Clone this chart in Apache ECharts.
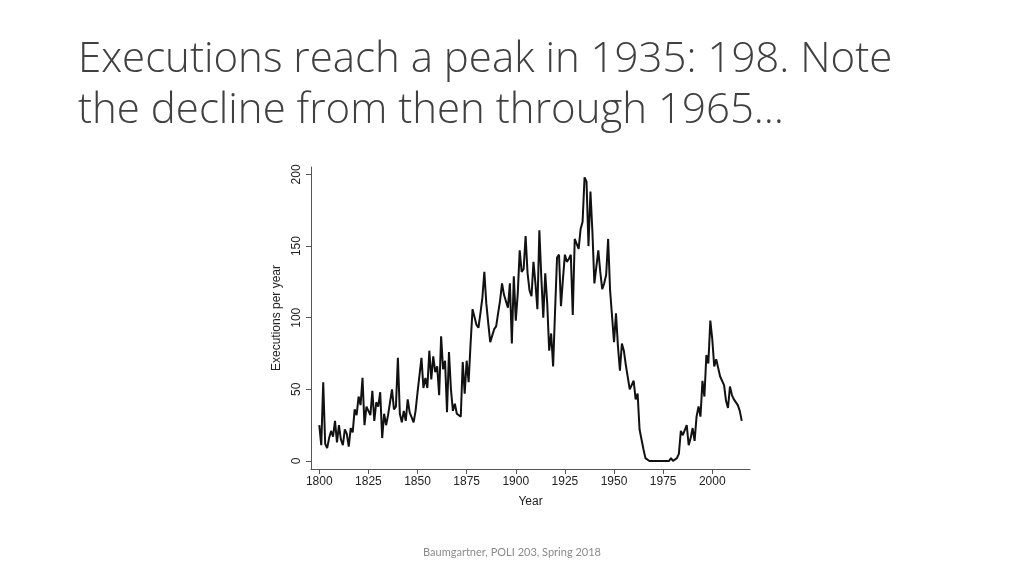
<!DOCTYPE html>
<html>
<head>
<meta charset="utf-8">
<script src="https://cdn.jsdelivr.net/npm/echarts@6/dist/echarts.min.js"></script>
<style>
html,body{margin:0;padding:0;background:#fff;}
#chart{width:1024px;height:576px;}
</style>
</head>
<body>
<div id="chart"></div>
<script>
// Executions per year, grouped by 20-year blocks
const startYears = [1800, 1820, 1840, 1860, 1880, 1900, 1920, 1940, 1960, 1980, 2000];
const exec1800 = [25,11,55,12,9,16,21,17,28,13,25,15,11,22,19,10,23,20,36,32];
const exec1820 = [45,39,58,25,38,37,32,49,28,41,38,48,16,33,25,32,33,50,36,38];
const exec1840 = [72,33,27,35,28,43,34,33,27,35,48,60,72,51,58,51,77,57,73,62];
const exec1860 = [66,46,87,64,70,34,76,50,35,40,33,34,31,69,47,70,55,82,106,105];
const exec1880 = [95,93,103,114,132,110,96,83,82,92,94,103,112,124,116,115,107,124,82,129];
const exec1900 = [98,117,147,132,134,157,131,119,115,139,124,106,161,128,100,131,110,77,89,66];
const exec1920 = [105,142,144,108,127,144,139,141,144,102,155,154,148,162,167,198,195,150,188,160];
const exec1940 = [124,123,147,132,120,124,130,155,119,119,83,103,80,63,82,77,67,66,50,50];
const exec1960 = [56,43,47,22,15,8,2,2,0,0,0,0,0,0,0,0,0,1,0,2];
const exec1980 = [0,1,2,5,21,18,18,25,11,16,23,14,31,38,31,56,45,74,68,98];
const exec2000 = [85,66,71,65,59,60,53,42,37,52,46,43,43,39,35,28];
const blocks = [exec1800, exec1820, exec1840, exec1860, exec1880, exec1900, exec1920, exec1940, exec1960, exec1980, exec2000];

const xTicks = [1800, 1825, 1850, 1875, 1900, 1925, 1950, 1975, 2000];
const yTicks = [0, 50, 100, 150, 200];

const titleText = 'Executions reach a peak in 1935: 198. Note\nthe decline from then through 1965\u2026';
const footerText = 'Baumgartner, POLI 203, Spring 2018';
const xName = 'Year';
const yName = 'Executions per year';

const points = [];
blocks.forEach((arr, b) => {
  arr.forEach((v, i) => points.push([startYears[b] + i, v]));
});

const chart = echarts.init(document.getElementById('chart'), null, {renderer: 'canvas'});
const axisFont = 'Liberation Sans, Arial, sans-serif';
chart.setOption({
  animation: false,
  backgroundColor: '#ffffff',
  title: [
    {
      text: titleText,
      left: 73,
      top: 30,
      textStyle: {fontFamily: 'Open Sans', fontWeight: 300, fontSize: 42, lineHeight: 51, color: '#404040'}
    },
    {
      text: footerText,
      left: 'center',
      top: 542,
      textStyle: {fontFamily: 'Lato', fontWeight: 'normal', fontSize: 11, color: '#8a8a8a'}
    }
  ],
  grid: {left: 311, top: 167, right: 274, bottom: 107, containLabel: false},
  xAxis: {
    type: 'value',
    min: 1795.78,
    max: 2019.2,
    name: xName,
    nameLocation: 'middle',
    nameGap: 27,
    nameTextStyle: {fontFamily: axisFont, fontSize: 12, color: '#222'},
    axisLine: {show: true, onZero: false, lineStyle: {color: '#555', width: 1}},
    axisTick: {show: true, length: 5, customValues: xTicks, lineStyle: {color: '#555'}},
    axisLabel: {customValues: xTicks, formatter: v => String(v), fontFamily: axisFont, fontSize: 12, color: '#222', margin: 7},
    splitLine: {show: false}
  },
  yAxis: {
    type: 'value',
    min: -5.58,
    max: 205.2,
    name: yName,
    nameLocation: 'middle',
    nameGap: 28,
    nameTextStyle: {fontFamily: axisFont, fontSize: 12, color: '#222'},
    axisLine: {show: true, onZero: false, lineStyle: {color: '#555', width: 1}},
    axisTick: {show: true, length: 5, customValues: yTicks, lineStyle: {color: '#555'}},
    axisLabel: {customValues: yTicks, formatter: v => String(v), rotate: 90, fontFamily: axisFont, fontSize: 12, color: '#222', margin: 8},
    splitLine: {show: false}
  },
  series: [{
    type: 'line',
    data: points,
    showSymbol: false,
    lineStyle: {color: '#111', width: 2},
    silent: true
  }]
});
</script>
</body>
</html>
